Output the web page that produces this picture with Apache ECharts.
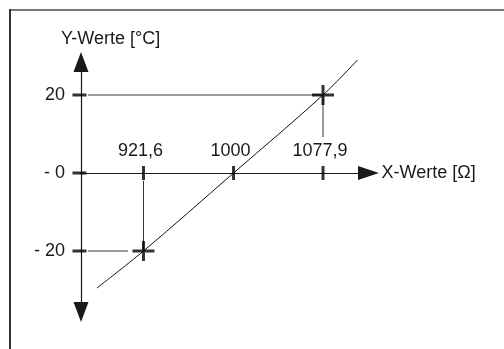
<!DOCTYPE html>
<html>
<head>
<meta charset="utf-8">
<script src="https://cdn.jsdelivr.net/npm/echarts@6/dist/echarts.min.js"></script>
<style>
html,body{margin:0;padding:0;background:#fff;}
#chart{width:504px;height:349px;}
</style>
</head>
<body>
<div id="chart"></div>
<script>
// ---- data ----
const xTickValues = [921.6, 1000, 1077.9];
const xTickLabels = ['921,6', '1000', '1077,9'];
const yTickValues = [20, 0, -20];
const yTickLabels = ['20', '- 0', '- 20'];
const curveX = [881, 921.6, 1000, 1077.9, 1108];
const curveY = [-29.5, -20, 0, 20, 29];
const markedX = [921.6, 1077.9];
const markedY = [-20, 20];
const xTitle = 'X-Werte [Ω]';
const yTitle = 'Y-Werte [°C]';

// ---- axis ranges ----
const X_MIN = 867.2, X_MAX = 1117.5;
const Y_MIN = -35.64, Y_MAX = 28.46;

const FONT = 'Liberation Sans, Arial, sans-serif';
const FS = 18;
const INK = '#1a1a1a';

const chart = echarts.init(document.getElementById('chart'), null, {renderer: 'canvas'});

const yLabelMap = {};
yTickValues.forEach((v, i) => { yLabelMap[v] = yTickLabels[i]; });

const guideStyle = {color: '#333', width: 1};
function guide(points) {
  return {
    type: 'line', data: points, symbol: 'none', silent: true, clip: false,
    lineStyle: guideStyle, z: 2
  };
}

const option = {
  backgroundColor: '#fff',
  animation: false,
  grid: {left: 81, right: 135.5, top: 62, bottom: 37, containLabel: false},
  xAxis: {
    type: 'value', min: X_MIN, max: X_MAX,
    name: xTitle, nameLocation: 'end', nameGap: 13,
    nameTextStyle: {fontFamily: FONT, fontSize: FS, color: INK},
    axisLine: {onZero: true, symbol: ['none', 'triangle'], symbolSize: [14, 21],
      lineStyle: {color: INK, width: 1.2}},
    axisTick: {show: false},
    splitLine: {show: false},
    axisLabel: {show: false}
  },
  yAxis: {
    type: 'value', min: Y_MIN, max: Y_MAX,
    axisLine: {symbol: ['triangle', 'triangle'], symbolSize: [15, 20],
      lineStyle: {color: INK, width: 1.2}},
    axisTick: {show: false},
    splitLine: {show: false},
    axisLabel: {
      margin: 16,
      customValues: yTickValues,
      formatter: v => yLabelMap[v] !== undefined ? yLabelMap[v] : '',
      fontFamily: FONT, fontSize: FS, color: INK
    }
  },
  graphic: [
    {type: 'line', shape: {x1: 10, y1: 10, x2: 504, y2: 10}, style: {stroke: '#777', lineWidth: 2}},
    {type: 'line', shape: {x1: 10, y1: 9, x2: 10, y2: 349}, style: {stroke: '#333', lineWidth: 2}},
    {type: 'text', left: 61, top: 30,
      style: {text: yTitle, fontFamily: FONT, fontSize: FS, fill: INK}}
  ],
  series: [
    guide([[X_MIN + 6, markedY[1]], [markedX[1], markedY[1]]]),
    guide([[markedX[1], markedY[1]], [markedX[1], 9.2]]),
    guide([[X_MIN + 6, markedY[0]], [908, markedY[0]]]),
    guide([[markedX[0], -2], [markedX[0], markedY[0]]]),
    {
      type: 'line', data: curveX.map((x, i) => [x, curveY[i]]),
      smooth: 0.35, symbol: 'none', clip: false,
      lineStyle: {color: '#111', width: 1}, z: 3
    },
    {
      type: 'scatter', clip: false, silent: true, z: 5,
      data: xTickValues.map((v, i) => ({value: [v, 0], name: xTickLabels[i]})),
      symbol: 'rect', symbolSize: [3, 14],
      itemStyle: {color: '#000'},
      label: {
        show: true, position: 'top', distance: 6, offset: [-3, 0],
        formatter: p => p.name,
        fontFamily: FONT, fontSize: FS, color: INK,
        textBorderWidth: 0, opacity: 1
      },
      emphasis: {disabled: true}
    },
    {
      type: 'scatter', clip: false, silent: true, z: 5,
      data: yTickValues.map(v => [X_MIN, v]),
      symbol: 'rect', symbolSize: [14, 3], symbolOffset: [-1.5, 0],
      itemStyle: {color: '#000'}
    },
    {
      type: 'scatter', clip: false, silent: true, z: 6,
      data: markedX.map((x, i) => [x, markedY[i]]),
      symbol: 'path://M0,8.5H22V11.5H0Z M9.5,0H12.5V20H9.5Z',
      symbolSize: [22, 20],
      itemStyle: {color: '#000'}
    }
  ]
};
chart.setOption(option);
</script>
</body>
</html>
